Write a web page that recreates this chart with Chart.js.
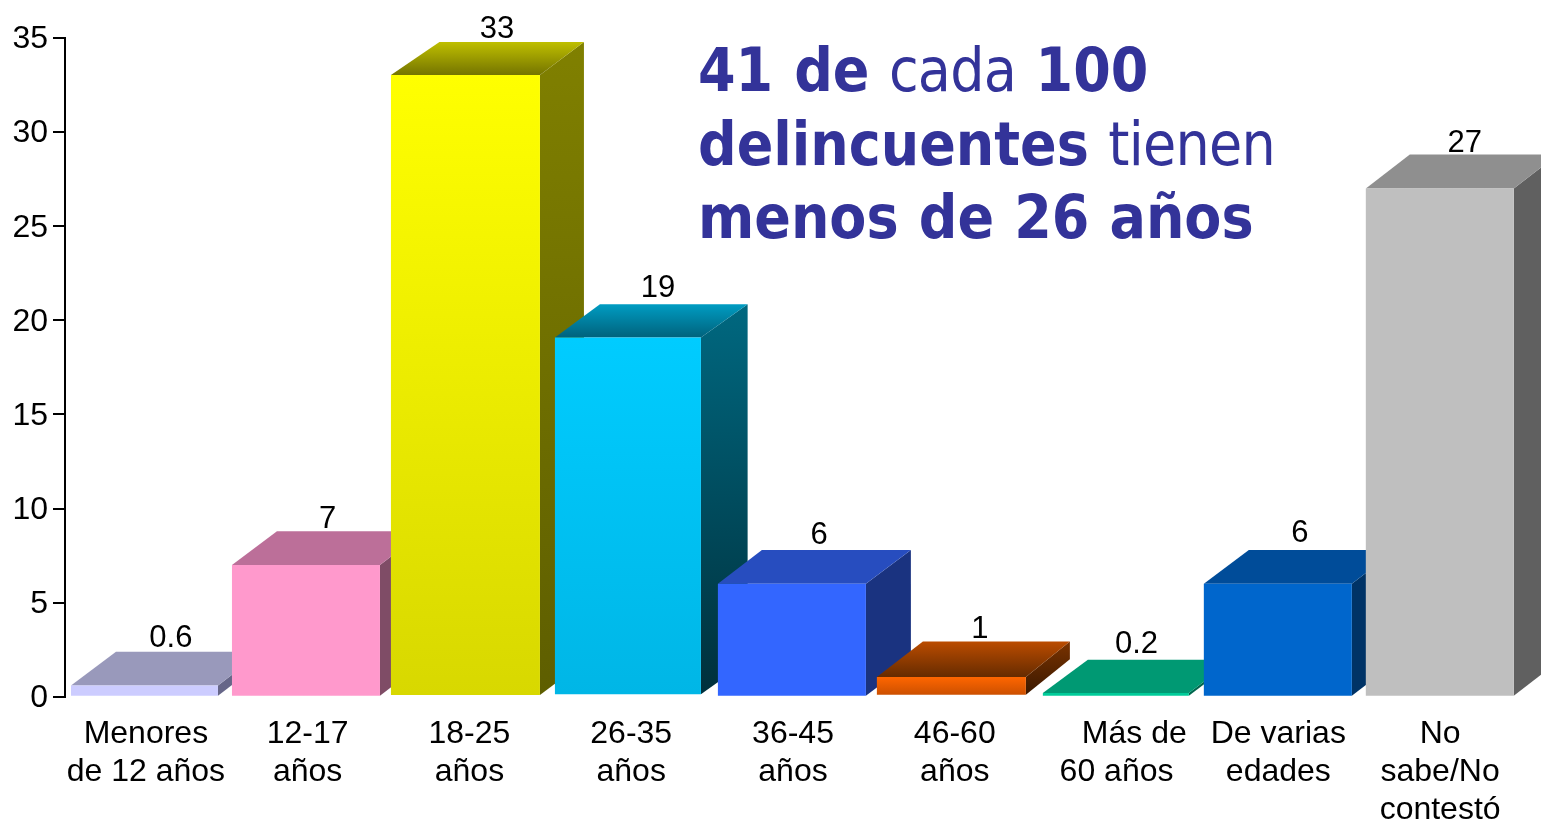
<!DOCTYPE html>
<html lang="es">
<head>
<meta charset="utf-8">
<title>Delincuentes por edad</title>
<script src="https://cdn.jsdelivr.net/npm/chart.js@4"></script>
<style>
html,body{margin:0;padding:0;background:#fff;overflow:hidden}
#wrap{position:relative;width:1541px;height:820px}
canvas{display:block}
#headline{position:absolute;left:698px;top:34px;font:60px/73.5px "DejaVu Sans",Verdana,sans-serif;color:#333399;white-space:pre;transform:scaleX(.9);transform-origin:0 0;word-spacing:2.5px}
#headline b{font-weight:700}
#headline b.tight{word-spacing:1.5px}
#headline span{font-weight:400;letter-spacing:-.8px}
</style>
</head>
<body>
<div id="wrap">
<canvas id="c" width="1541" height="820"></canvas>
<div id="headline"><b>41 de</b> <span>cada</span> <b>100</b>
<b>delincuentes</b> <span>tienen</span>
<b class="tight">menos de 26 años</b></div>
</div>
<script>
// Data
const categories = [
  ['Menores','de 12 años'],['12-17','años'],['18-25','años'],['26-35','años'],
  ['36-45','años'],['46-60','años'],['    Más de','60 años'],['De varias','edades'],
  ['No','sabe/No','contestó']
];
const values = [0.6, 7, 33, 19, 6, 1, 0.2, 6, 27];
const valueLabels = ['0.6','7','33','19','6','1','0.2','6','27'];
const yTicksMax = 35;
const yTicksStep = 5;

// Styles: [front top, front bottom, roof back, roof front, side top, side bottom]
const palette = [
  ['#CCCCFF','#CCCCFF','#9999BB','#9999BB','#666688','#666688'],
  ['#FF99CC','#FF99CC','#BC6F99','#BC6F99','#7F4C66','#7F4C66'],
  ['#FFFF00','#D8D800','#BFBF00','#747400','#808000','#5E5E00'],
  ['#00CCFF','#00B6E6','#009CC2','#00627C','#006880','#00303C'],
  ['#3366FF','#3366FF','#274DBF','#274DBF','#1A3380','#1A3380'],
  ['#FF6600','#CC5000','#BB4C00','#662B00','#7A3300','#3A1800'],
  ['#00CC99','#00CC99','#009973','#009973','#00664D','#00664D'],
  ['#0066CC','#0066CC','#004C99','#004C99','#003366','#003366'],
  ['#BFBFBF','#BFBFBF','#8F8F8F','#8F8F8F','#606060','#606060']
];
const depthLeft = [45,45,48.5,45,44,46,45,45,44];
const depthRight = [44,44,44,46.7,45,44,44,44,44];
const depthY = [33.7,33.7,33,33.3,33.7,35.5,33.3,33.7,34];
const shiftX = [-1.4,-1.7,-4,-3.3,-1.1,-3.4,-0.7,-0.5,-0.3];
const shiftY = [0,0,-0.6,-1.5,0,-1,0,0,0];
const faceWidth = [147,148,149,146,148,149,146,148,148];
const labelDx = [25,20,27.5,26.7,26,25,20,21.5,24.7];
const labelGap = [13.5,12,12.5,16,15,12,15,17,11];
const sansFont = '"Liberation Sans", Arial, sans-serif';

function vGrad(ctx, y0, y1, c0, c1){
  const g = ctx.createLinearGradient(0, y0, 0, y1);
  g.addColorStop(0, c0); g.addColorStop(1, c1);
  return g;
}
function poly(ctx, pts, fill){
  ctx.beginPath();
  pts.forEach((p,i)=> i ? ctx.lineTo(p[0],p[1]) : ctx.moveTo(p[0],p[1]));
  ctx.closePath();
  ctx.fillStyle = fill;
  ctx.fill();
}

const bars3d = {
  id: 'bars3d',
  beforeDatasetDraw(chart, args){
    const ctx = chart.ctx;
    const meta = args.meta;
    meta.data.forEach((el, i) => {
      const pal = palette[i];
      el.width = faceWidth[i];
      const L = el.x - el.width/2, R = el.x + el.width/2, T = el.y, B = el.base;
      const dl = depthLeft[i], dr = depthRight[i], dy = depthY[i];
      el.options = Object.assign(Object.create(el.options), { backgroundColor: vGrad(ctx, T, B, pal[0], pal[1]) });
      ctx.save();
      ctx.translate(shiftX[i], shiftY[i]);
      poly(ctx, [[R,T],[R+dr,T-dy],[R+dr,B-dy],[R,B]],
        vGrad(ctx, T-dy, B, pal[4], pal[5]));
      poly(ctx, [[L,T],[L+dl,T-dy],[R+dr,T-dy],[R,T]],
        vGrad(ctx, T-dy, T, pal[2], pal[3]));
      el.draw(ctx);
      ctx.restore();
    });
    return false;
  },
  afterDatasetsDraw(chart){
    const ctx = chart.ctx;
    const meta = chart.getDatasetMeta(0);
    ctx.save();
    ctx.font = '31px ' + sansFont;
    ctx.fillStyle = '#000';
    ctx.textAlign = 'center';
    ctx.textBaseline = 'middle';
    meta.data.forEach((el, i) => {
      ctx.fillText(valueLabels[i], el.x + labelDx[i], el.y + shiftY[i] - depthY[i] - labelGap[i]);
    });
    ctx.restore();
  }
};

new Chart(document.getElementById('c'), {
  type: 'bar',
  data: {
    labels: categories,
    datasets: [{
      data: values,
      barPercentage: 0.915,
      categoryPercentage: 1,
      borderWidth: 0,
      backgroundColor: palette.map(p => p[0])
    }]
  },
  plugins: [bars3d],
  options: {
    responsive: false,
    animation: false,
    events: [],
    layout: { padding: { left: 0, right: 20, top: 38, bottom: 0 } },
    plugins: { legend: { display: false }, tooltip: { enabled: false }, title: { display: false } },
    scales: {
      x: {
        afterFit(s){ s.height = 123.3; },
        border: { display: false },
        grid: { display: false, drawTicks: false },
        ticks: {
          autoSkip: false, maxRotation: 0, minRotation: 0, padding: 18, color: '#000',
          font: { family: sansFont, size: 32, lineHeight: 1.1875 }
        }
      },
      y: {
        min: 0, max: yTicksMax,
        afterFit(s){ s.width = 65; },
        border: { display: true, color: '#000', width: 2 },
        grid: { drawOnChartArea: false, drawTicks: true, tickLength: 12, color: '#000', lineWidth: 2 },
        ticks: {
          stepSize: yTicksStep, padding: 5, color: '#000', labelOffset: 1.5,
          font: { family: sansFont, size: 32 }
        }
      }
    }
  }
});
</script>
</body>
</html>
